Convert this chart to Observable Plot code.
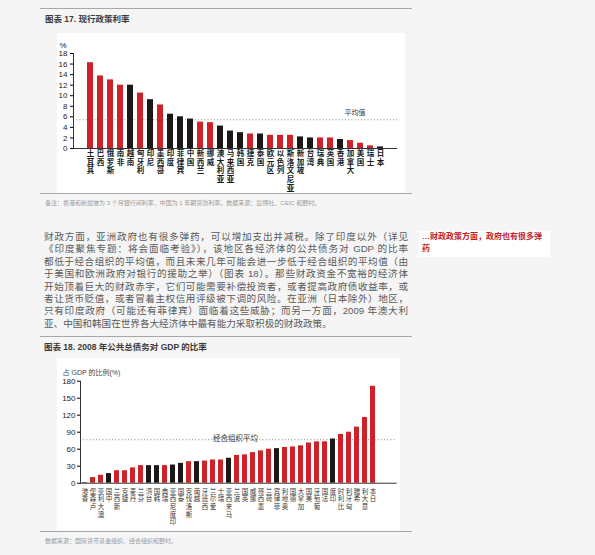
<!DOCTYPE html>
<html>
<head>
<meta charset="utf-8">
<script src="https://cdn.jsdelivr.net/npm/d3@7"></script>
<script src="https://cdn.jsdelivr.net/npm/@observablehq/plot@0.6"></script>
<style>
  html, body { margin: 0; padding: 0; }
  body { width: 595px; height: 555px; background: #f5f5f5; position: relative; overflow: hidden;
         font-family: "Liberation Sans", "Noto Sans CJK SC", sans-serif; }
  .abs { position: absolute; }
  .hr { position: absolute; height: 0; border-top: 1.3px solid #a8a8a8; }
  .title { font-size: 8.5px; color: #3a3a3a; font-weight: bold; white-space: nowrap; }
  .note { font-size: 6px; color: #9a9a9a; white-space: nowrap; }
  .body { left: 44px; width: 364px; font-size: 9.6px; color: #5a5a5a; }
  .body div { height: 12.4px; line-height: 12.4px; text-align: justify; text-align-last: justify; white-space: nowrap; }
  .body div.last { text-align-last: left; }
  .side { width: 128px; height: 26px; background: #fff; color: #c0202a;
          font-size: 8px; font-weight: bold; line-height: 12.4px; padding-left: 3px; }
</style>
</head>
<body>
<script>
// ---------- Chart 17: policy rates ----------
const rateCountries = ["土耳其","巴西","俄罗斯","南非","越南","匈牙利","印尼","墨西哥","印度","菲律宾",
  "中国","新西兰","挪威","澳大利亚","马来西亚","韩国","捷克","泰国","欧元区","以色列",
  "斯洛文尼亚","新加坡","台湾","瑞典","英国","香港","加拿大","美国","瑞士","日本"];
const rateValues = [16.25,13.75,13.0,12.0,12.0,10.5,9.25,8.25,6.5,6.0,
  5.58,5.0,4.9,4.25,3.3,3.0,2.75,2.75,2.5,2.5,
  2.5,2.2,2.0,2.0,2.0,1.7,1.5,1.0,0.5,0.3];
const rateGroups = ["其他","其他","其他","其他","亚洲","其他","亚洲","其他","亚洲","亚洲",
  "亚洲","其他","其他","亚洲","亚洲","亚洲","其他","亚洲","其他","其他",
  "其他","亚洲","亚洲","其他","其他","亚洲","其他","其他","其他","亚洲"];
const rateAverage = 5.45;
const rateTicks = [0,2,4,6,8,10,12,14,16,18];

// ---------- Chart 18: public debt / GDP 2008 ----------
const debtCountries = ["香港","卢森堡","澳大利亚","中国","新西兰","捷克","丹麦","芬兰","台湾","韩国",
  "瑞典","印度尼西亚","泰国","斯洛伐克","越南","西班牙","爱尔兰","瑞士","马来西亚","波兰",
  "英国","挪威","墨西哥","荷兰","菲律宾","奥地利","德国","加拿大","美国","葡萄牙",
  "法国","印度","比利时","匈牙利","希腊","意大利","日本"];
const debtValues = [1,10,14,17,22,22,27,31,31,31,
  31,32,35,38,38,39,41,41,44,49,
  50,54,57,60,61,63,64,66,71,73,
  73,78,86,90,99,116,171];
const debtGroups = ["亚洲","其他","其他","亚洲","其他","其他","其他","其他","亚洲","亚洲",
  "其他","亚洲","亚洲","其他","亚洲","其他","其他","其他","亚洲","其他",
  "其他","其他","其他","其他","亚洲","其他","其他","其他","其他","其他",
  "其他","亚洲","其他","其他","其他","其他","其他"];
const oecdAverage = 76.7;
const debtTicks = [0,30,60,90,120,150,180];

const groupDomain = ["亚洲","其他"];
const groupColors = ["#1c1616","#cc2229"];
const fontStack = "'Liberation Sans', 'Noto Sans CJK SC', sans-serif";

function place(el, left, top) {
  el.style.position = "absolute";
  el.style.left = left + "px";
  el.style.top = top + "px";
  document.body.appendChild(el);
}
function html(s, cls, left, top) {
  const d = document.createElement("div");
  d.className = cls; d.innerHTML = s;
  place(d, left, top);
  return d;
}
function hr(left, top, width) {
  const d = document.createElement("div");
  d.className = "hr"; d.style.width = width + "px";
  place(d, left, top);
}
// vertical (stacked) category labels: one text mark per character row
function stackedLabels(data, {reverse = false, rows = 5, dy0, step, fontSize, fill, fontWeight}) {
  const marks = [];
  for (let k = 0; k < rows; k++) {
    marks.push(Plot.text(data, {
      x: "c",
      text: d => { const ch = [...d.c]; if (reverse) ch.reverse(); return ch[k] ?? ""; },
      frameAnchor: "bottom", lineAnchor: "top", dy: dy0 + k * step,
      fontSize, fill, fontWeight
    }));
  }
  return marks;
}

// page furniture
hr(40, 8, 372);
html("图表 17. 现行政策利率", "title", 45, 12);

const rateData = rateCountries.map((c, i) => ({c, v: rateValues[i], g: rateGroups[i]}));
const chart1 = Plot.plot({
  width: 348, height: 160,
  marginLeft: 16, marginRight: 8, marginTop: 20, marginBottom: 45,
  style: {background: "#fff", fontFamily: fontStack, overflow: "visible"},
  x: {domain: rateCountries, paddingInner: 0.44, paddingOuter: 0.28, align: 0.5, axis: null},
  y: {domain: [0, 18]},
  color: {domain: groupDomain, range: groupColors},
  marks: [
    Plot.ruleY([rateAverage], {stroke: "#8a8a8a", strokeWidth: 1, strokeDasharray: "1,2.2"}),
    Plot.barY(rateData, {x: "c", y: "v", fill: "g"}),
    Plot.ruleY([0], {stroke: "#333", strokeWidth: 1}),
    Plot.frame({anchor: "left", stroke: "#333", strokeWidth: 1}),
    Plot.axisY({ticks: rateTicks, tickSize: 3, tickPadding: 3, fontSize: 8, fill: "#222", label: null}),
    ...stackedLabels(rateData, {dy0: 2, step: 8.7, fontSize: 7.5, fill: "#1a1a1a", fontWeight: "bold"}),
    Plot.text(["%"], {frameAnchor: "top-left", dx: -14, dy: -11, fontSize: 8, fill: "#222", textAnchor: "start"}),
    Plot.text(["平均值"], {frameAnchor: "top-right", dx: -32, dy: 57, fontSize: 7, fill: "#333", textAnchor: "end"})
  ]
});
place(chart1, 57, 33);

hr(40, 192.5, 372);
html("备注：香港和新加坡为 3 个月银行间利率，中国为 1 年期贷款利率。数据来源：彭博社、CEIC 和野村。", "note", 45, 198);

// body text
const bodyDiv = document.createElement("div");
bodyDiv.className = "body abs";
bodyDiv.innerHTML = [
  "财政方面，亚洲政府也有很多弹药，可以增加支出并减税。除了印度以外（详见",
  "《印度聚焦专题：将会面临考验》），该地区各经济体的公共债务对 GDP 的比率",
  "都低于经合组织的平均值，而且未来几年可能会进一步低于经合组织的平均值（由",
  "于美国和欧洲政府对银行的援助之举）（图表 18）。那些财政资金不宽裕的经济体",
  "开始顶着巨大的财政赤字，它们可能需要补偿投资者，或者提高政府债收益率，或",
  "者让货币贬值，或者冒着主权信用评级被下调的风险。在亚洲（日本除外）地区，",
  "只有印度政府（可能还有菲律宾）面临着这些威胁；而另一方面，2009 年澳大利",
  "亚、中国和韩国在世界各大经济体中最有能力采取积极的财政政策。"
].map((l, i, a) => `<div class="${i === a.length - 1 ? "last" : ""}">${l}</div>`).join("");
place(bodyDiv, 44, 231);

html("…财政政策方面，政府也有很多弹<br>药", "side abs", 419, 231);

hr(40, 336, 372);
html("图表 18. 2008 年公共总债务对 GDP 的比率", "title", 44, 340);

const debtData = debtCountries.map((c, i) => ({c, v: debtValues[i], g: debtGroups[i]}));
const chart2 = Plot.plot({
  width: 343, height: 172,
  marginLeft: 23, marginRight: 3.3, marginTop: 22.7, marginBottom: 47.3,
  style: {background: "#fff", fontFamily: fontStack, overflow: "visible"},
  x: {domain: debtCountries, paddingInner: 0.335, paddingOuter: 0.13, align: 0.1, axis: null},
  y: {domain: [0, 180]},
  color: {domain: groupDomain, range: groupColors},
  marks: [
    Plot.ruleY([oecdAverage], {stroke: "#8a8a8a", strokeWidth: 1, strokeDasharray: "1,2.2"}),
    Plot.barY(debtData, {x: "c", y: "v", fill: "g"}),
    Plot.ruleY([0], {stroke: "#333", strokeWidth: 1}),
    Plot.frame({anchor: "left", stroke: "#333", strokeWidth: 1}),
    Plot.axisY({ticks: debtTicks, tickSize: 3, tickPadding: 2, fontSize: 8, fill: "#222", label: null}),
    ...stackedLabels(debtData, {reverse: true, dy0: 6, step: 7.6, fontSize: 6.5, fill: "#3a3a3a"}),
    Plot.text(["占 GDP 的比例(%)"], {frameAnchor: "top-left", dx: -18, dy: -11.5, fontSize: 7, fill: "#444", textAnchor: "start"}),
    Plot.text(["经合组织平均"], {frameAnchor: "top-left", dx: 155, dy: 54, fontSize: 7.5, fill: "#333", textAnchor: "middle"})
  ]
});
place(chart2, 57, 358);

hr(40, 531, 372);
html("数据来源：国际货币基金组织，经合组织和野村。", "note", 45, 536);
</script>
</body>
</html>
